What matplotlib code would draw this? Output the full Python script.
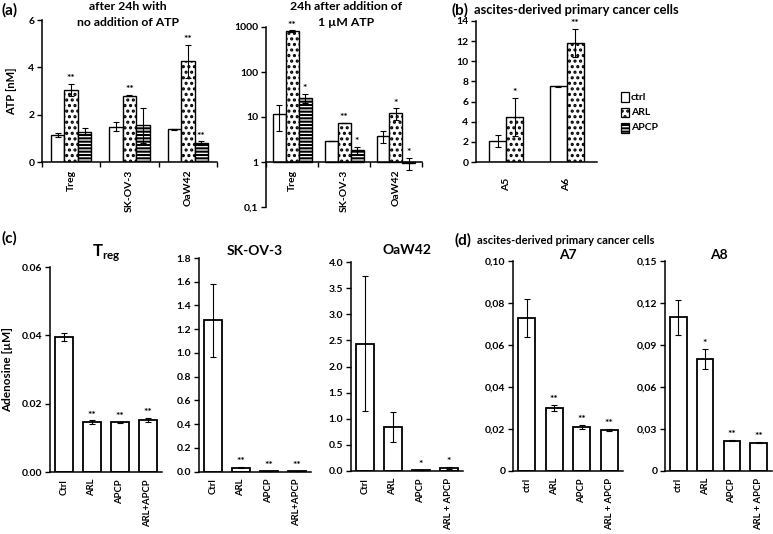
import numpy as np
import matplotlib
matplotlib.use("Agg")
import matplotlib.pyplot as plt
from matplotlib.patches import Rectangle

plt.rcParams['font.family'] = ['Lato', 'DejaVu Sans']
plt.rcParams['font.weight'] = 'bold'
plt.rcParams['hatch.linewidth'] = 1.5

W, H = 773, 534

# ---------------- data ----------------
cells_a = ["Treg", "SK-OV-3", "OaW42"]
series_a = ["ctrl", "ARL", "APCP"]
a1_vals = [[1.15, 3.05, 1.28], [1.50, 2.80, 1.55], [1.38, 4.25, 0.80]]
a1_errs = [[0.08, 0.25, 0.15], [0.18, 0.03, 0.75], [0.03, 0.70, 0.07]]
a1_stars = [["", "**", ""], ["", "**", ""], ["", "**", "**"]]
a1_yticks = [0, 2, 4, 6]

a2_vals = [[11.5, 815, 27.0], [2.9, 7.3, 1.85], [3.8, 12.0, 0.95]]
a2_errs = [[6.7, 30, 6.0], [0.0, 0.0, 0.35], [1.2, 3.5, 0.3]]
a2_stars = [["", "**", "*"], ["", "**", "*"], ["", "*", "*"]]
a2_yticks = [0.1, 1, 10, 100, 1000]
a2_yticklabels = ["0,1", "1", "10", "100", "1000"]

cells_b = ["A5", "A6"]
b_vals = [[2.05, 4.5], [7.5, 11.85]]
b_errs = [[0.6, 1.9], [0.03, 1.4]]
b_stars = [["", "*"], ["", "**"]]
b_yticks = [0, 2, 4, 6, 8, 10, 12, 14]

treat_c = ["Ctrl", "ARL", "APCP", "ARL+APCP"]
treat_c2 = ["Ctrl", "ARL", "APCP", "ARL + APCP"]
treat_d = ["ctrl", "ARL", "APCP", "ARL + APCP"]

treg_vals = [0.0395, 0.01455, 0.0145, 0.0152]
treg_errs = [0.0013, 0.0006, 0.0002, 0.0007]
treg_stars = ["", "**", "**", "**"]
treg_yticks = [0.00, 0.02, 0.04, 0.06]
treg_yticklabels = ["0.00", "0.02", "0.04", "0.06"]

sk_vals = [1.275, 0.034, 0.008, 0.008]
sk_errs = [0.305, 0.005, 0.002, 0.002]
sk_stars = ["", "**", "**", "**"]
sk_yticks = [0.0, 0.2, 0.4, 0.6, 0.8, 1.0, 1.2, 1.4, 1.6, 1.8]
sk_yticklabels = ["0.0", "0.2", "0.4", "0.6", "0.8", "1.0", "1.2", "1.4", "1.6", "1.8"]

oa_vals = [2.44, 0.84, 0.015, 0.055]
oa_errs = [1.30, 0.29, 0.003, 0.02]
oa_stars = ["", "", "*", "*"]
oa_yticks = [0.0, 0.5, 1.0, 1.5, 2.0, 2.5, 3.0, 3.5, 4.0]
oa_yticklabels = ["0.0", "0.5", "1.0", "1.5", "2.0", "2.5", "3.0", "3.5", "4.0"]

a7_vals = [0.073, 0.0302, 0.0209, 0.0196]
a7_errs = [0.009, 0.0015, 0.001, 0.0005]
a7_stars = ["", "**", "**", "**"]
a7_yticks = [0, 0.02, 0.04, 0.06, 0.08, 0.10]
a7_yticklabels = ["0", "0,02", "0,04", "0,06", "0,08", "0,10"]

a8_vals = [0.110, 0.080, 0.0217, 0.0203]
a8_errs = [0.0125, 0.0073, 0.0005, 0.0005]
a8_stars = ["", "*", "**", "**"]
a8_yticks = [0, 0.03, 0.06, 0.09, 0.12, 0.15]
a8_yticklabels = ["0", "0,03", "0,06", "0,09", "0,12", "0,15"]

hatches = {"ctrl": "", "ARL": "...", "APCP": "-----"}

# ---------------- helpers ----------------
fig = plt.figure(figsize=(W / 100, H / 100), dpi=100)


def add_ax(x0, x1, ytop, ybot):
    ax = fig.add_axes([x0 / W, 1 - ybot / H, (x1 - x0) / W, (ybot - ytop) / H])
    for s in ("top", "right"):
        ax.spines[s].set_visible(False)
    for s in ("left", "bottom"):
        ax.spines[s].set_linewidth(1.1)
    ax.tick_params(axis="y", direction="out", length=3.5, width=1.0, labelsize=7.5, pad=2)
    ax.patch.set_alpha(0)
    return ax


def style_cat(ax, n, labels, pad, boundary_ticks=False, fs=7.5):
    ax.set_xlim(-0.5, n - 0.5)
    ax.set_xticks(np.arange(n))
    ax.set_xticklabels(labels, rotation=90, fontsize=fs, fontweight="bold")
    ax.tick_params(axis="x", which="major", length=0, pad=pad)
    if boundary_ticks:
        ax.set_xticks(np.arange(n + 1) - 0.5, minor=True)
        ax.tick_params(axis="x", which="minor", length=3.5, width=1.0, direction="out")


def star(ax, x, y, s, dy=0.5):
    if s:
        ax.annotate(s, (x, y), xytext=(0, dy), textcoords="offset points",
                    ha="center", va="bottom", fontsize=7.5, fontweight="bold")


def grouped(ax, vals, errs, stars, series, width, bottom=0.0):
    vals = np.array(vals)
    errs = np.array(errs)
    ng, ns = vals.shape
    offs = (np.arange(ns) - (ns - 1) / 2) * width
    for j in range(ns):
        x = np.arange(ng) + offs[j]
        ax.bar(x, vals[:, j] - bottom, width=width, bottom=bottom, color="white",
               edgecolor="black", linewidth=1.0, hatch=hatches[series[j]], zorder=2)
        ax.errorbar(x, vals[:, j], yerr=errs[:, j], fmt="none", ecolor="black",
                    elinewidth=0.8, capsize=2, capthick=0.8, zorder=3)
        for i in range(ng):
            star(ax, x[i], max(vals[i, j] + errs[i, j], bottom), stars[i][j])


def simple(ax, vals, errs, stars, labels, width, pad):
    n = len(vals)
    x = np.arange(n)
    ax.bar(x, vals, width=width, color="white", edgecolor="black", linewidth=1.3, zorder=2)
    ax.errorbar(x, vals, yerr=errs, fmt="none", ecolor="black", elinewidth=0.8,
                capsize=2, capthick=0.8, zorder=3)
    for i in range(n):
        star(ax, x[i], vals[i] + errs[i], stars[i])
    style_cat(ax, n, labels, pad, fs=6.8)


# ---------------- panel (a) left ----------------
ax = add_ax(42, 217, 20, 162)
grouped(ax, a1_vals, a1_errs, a1_stars, series_a, 0.23)
ax.set_ylim(0, 6)
ax.set_yticks(a1_yticks)
ax.set_yticklabels([str(v) for v in a1_yticks])
style_cat(ax, 3, cells_a, 5.5, boundary_ticks=True)
ax.set_ylabel("ATP [nM]", fontsize=8, fontweight="bold", labelpad=8)

# ---------------- panel (a) right (log) ----------------
ax = add_ax(266, 422, 27, 207)
ax.set_yscale("log")
ax.set_ylim(0.1, 1000)
grouped(ax, a2_vals, a2_errs, a2_stars, series_a, 0.25, bottom=1.0)
ax.set_ylim(0.1, 1000)
ax.set_yticks(a2_yticks)
ax.set_yticklabels(a2_yticklabels)
ax.yaxis.set_minor_locator(matplotlib.ticker.NullLocator())
ax.spines["bottom"].set_position(("data", 1))
style_cat(ax, 3, cells_a, 5.5, boundary_ticks=True)

# ---------------- panel (b) ----------------
ax = add_ax(476, 597, 21, 162)
grouped(ax, b_vals, b_errs, b_stars, ["ctrl", "ARL"], 0.28)
ax.set_ylim(0, 14)
ax.set_yticks(b_yticks)
ax.set_yticklabels([str(v) for v in b_yticks])
style_cat(ax, 2, cells_b, 11)

# legend for (a)/(b)
for k, name in enumerate(series_a):
    yy = 97 + k * 15.5
    fig.patches.append(Rectangle((621 / W, 1 - (yy + 4.5) / H), 8 / W, 9 / H,
                                 transform=fig.transFigure, facecolor="white",
                                 edgecolor="black", linewidth=0.9, hatch=hatches[name]))
    fig.text(631 / W, 1 - yy / H, name, fontsize=7.5, fontweight="bold", va="center", ha="left")

# ---------------- panel (c) ----------------
ax = add_ax(50, 162, 267, 472)
simple(ax, treg_vals, treg_errs, treg_stars, treat_c, 0.64, 5)
ax.set_ylim(0, 0.06)
ax.set_yticks(treg_yticks)
ax.set_yticklabels(treg_yticklabels)
ax.set_ylabel("Adenosine [\u00b5M]", fontsize=8.5, fontweight="bold", labelpad=6)
ax.set_title(r"T$_{\mathregular{reg}}$", fontsize=12, fontweight="bold", pad=8)

ax = add_ax(199, 311, 258, 471.7)
simple(ax, sk_vals, sk_errs, sk_stars, treat_c, 0.64, 5)
ax.set_ylim(0, 1.8)
ax.set_yticks(sk_yticks)
ax.set_yticklabels(sk_yticklabels)
ax.set_title("SK-OV-3", fontsize=10, fontweight="bold", pad=2)

ax = add_ax(351, 463, 262, 471)
simple(ax, oa_vals, oa_errs, oa_stars, treat_c2, 0.64, 5)
ax.set_ylim(0, 4.0)
ax.set_yticks(oa_yticks)
ax.set_yticklabels(oa_yticklabels)
ax.set_title("OaW42", fontsize=10, fontweight="bold", pad=6)

# ---------------- panel (d) ----------------
ax = add_ax(513, 623, 261.4, 471)
simple(ax, a7_vals, a7_errs, a7_stars, treat_d, 0.62, 5)
ax.set_ylim(0, 0.10)
ax.set_yticks(a7_yticks)
ax.set_yticklabels(a7_yticklabels)
ax.set_title("A7", fontsize=10, fontweight="bold", pad=0)

ax = add_ax(665, 772, 261.4, 471)
simple(ax, a8_vals, a8_errs, a8_stars, treat_d, 0.62, 5)
ax.set_ylim(0, 0.15)
ax.set_yticks(a8_yticks)
ax.set_yticklabels(a8_yticklabels)
ax.set_title("A8", fontsize=10, fontweight="bold", pad=0)

# ---------------- panel labels / titles ----------------
def ftext(x, y, s, **kw):
    fig.text(x / W, 1 - y / H, s, **kw)

ftext(2, 10, "(a)", fontsize=11, fontweight="bold", va="center", ha="left")
ftext(128, 7, "after 24h with", fontsize=8.8, fontweight="bold", va="center", ha="center")
ftext(128, 22, "no addition of ATP", fontsize=8.8, fontweight="bold", va="center", ha="center")
ftext(346, 7, "24h after addition of", fontsize=8.8, fontweight="bold", va="center", ha="center")
ftext(346, 22, "1 \u00b5M ATP", fontsize=8.8, fontweight="bold", va="center", ha="center")
ftext(452, 10, "(b)", fontsize=11, fontweight="bold", va="center", ha="left")
ftext(474, 10, "ascites-derived primary cancer cells", fontsize=9.3, fontweight="bold",
      va="center", ha="left")
ftext(2, 238, "(c)", fontsize=11, fontweight="bold", va="center", ha="left")
ftext(455, 240, "(d)", fontsize=11, fontweight="bold", va="center", ha="left")
ftext(477, 240, "ascites-derived primary cancer cells", fontsize=8, fontweight="bold",
      va="center", ha="left")

fig.savefig("out.png", dpi=100)
